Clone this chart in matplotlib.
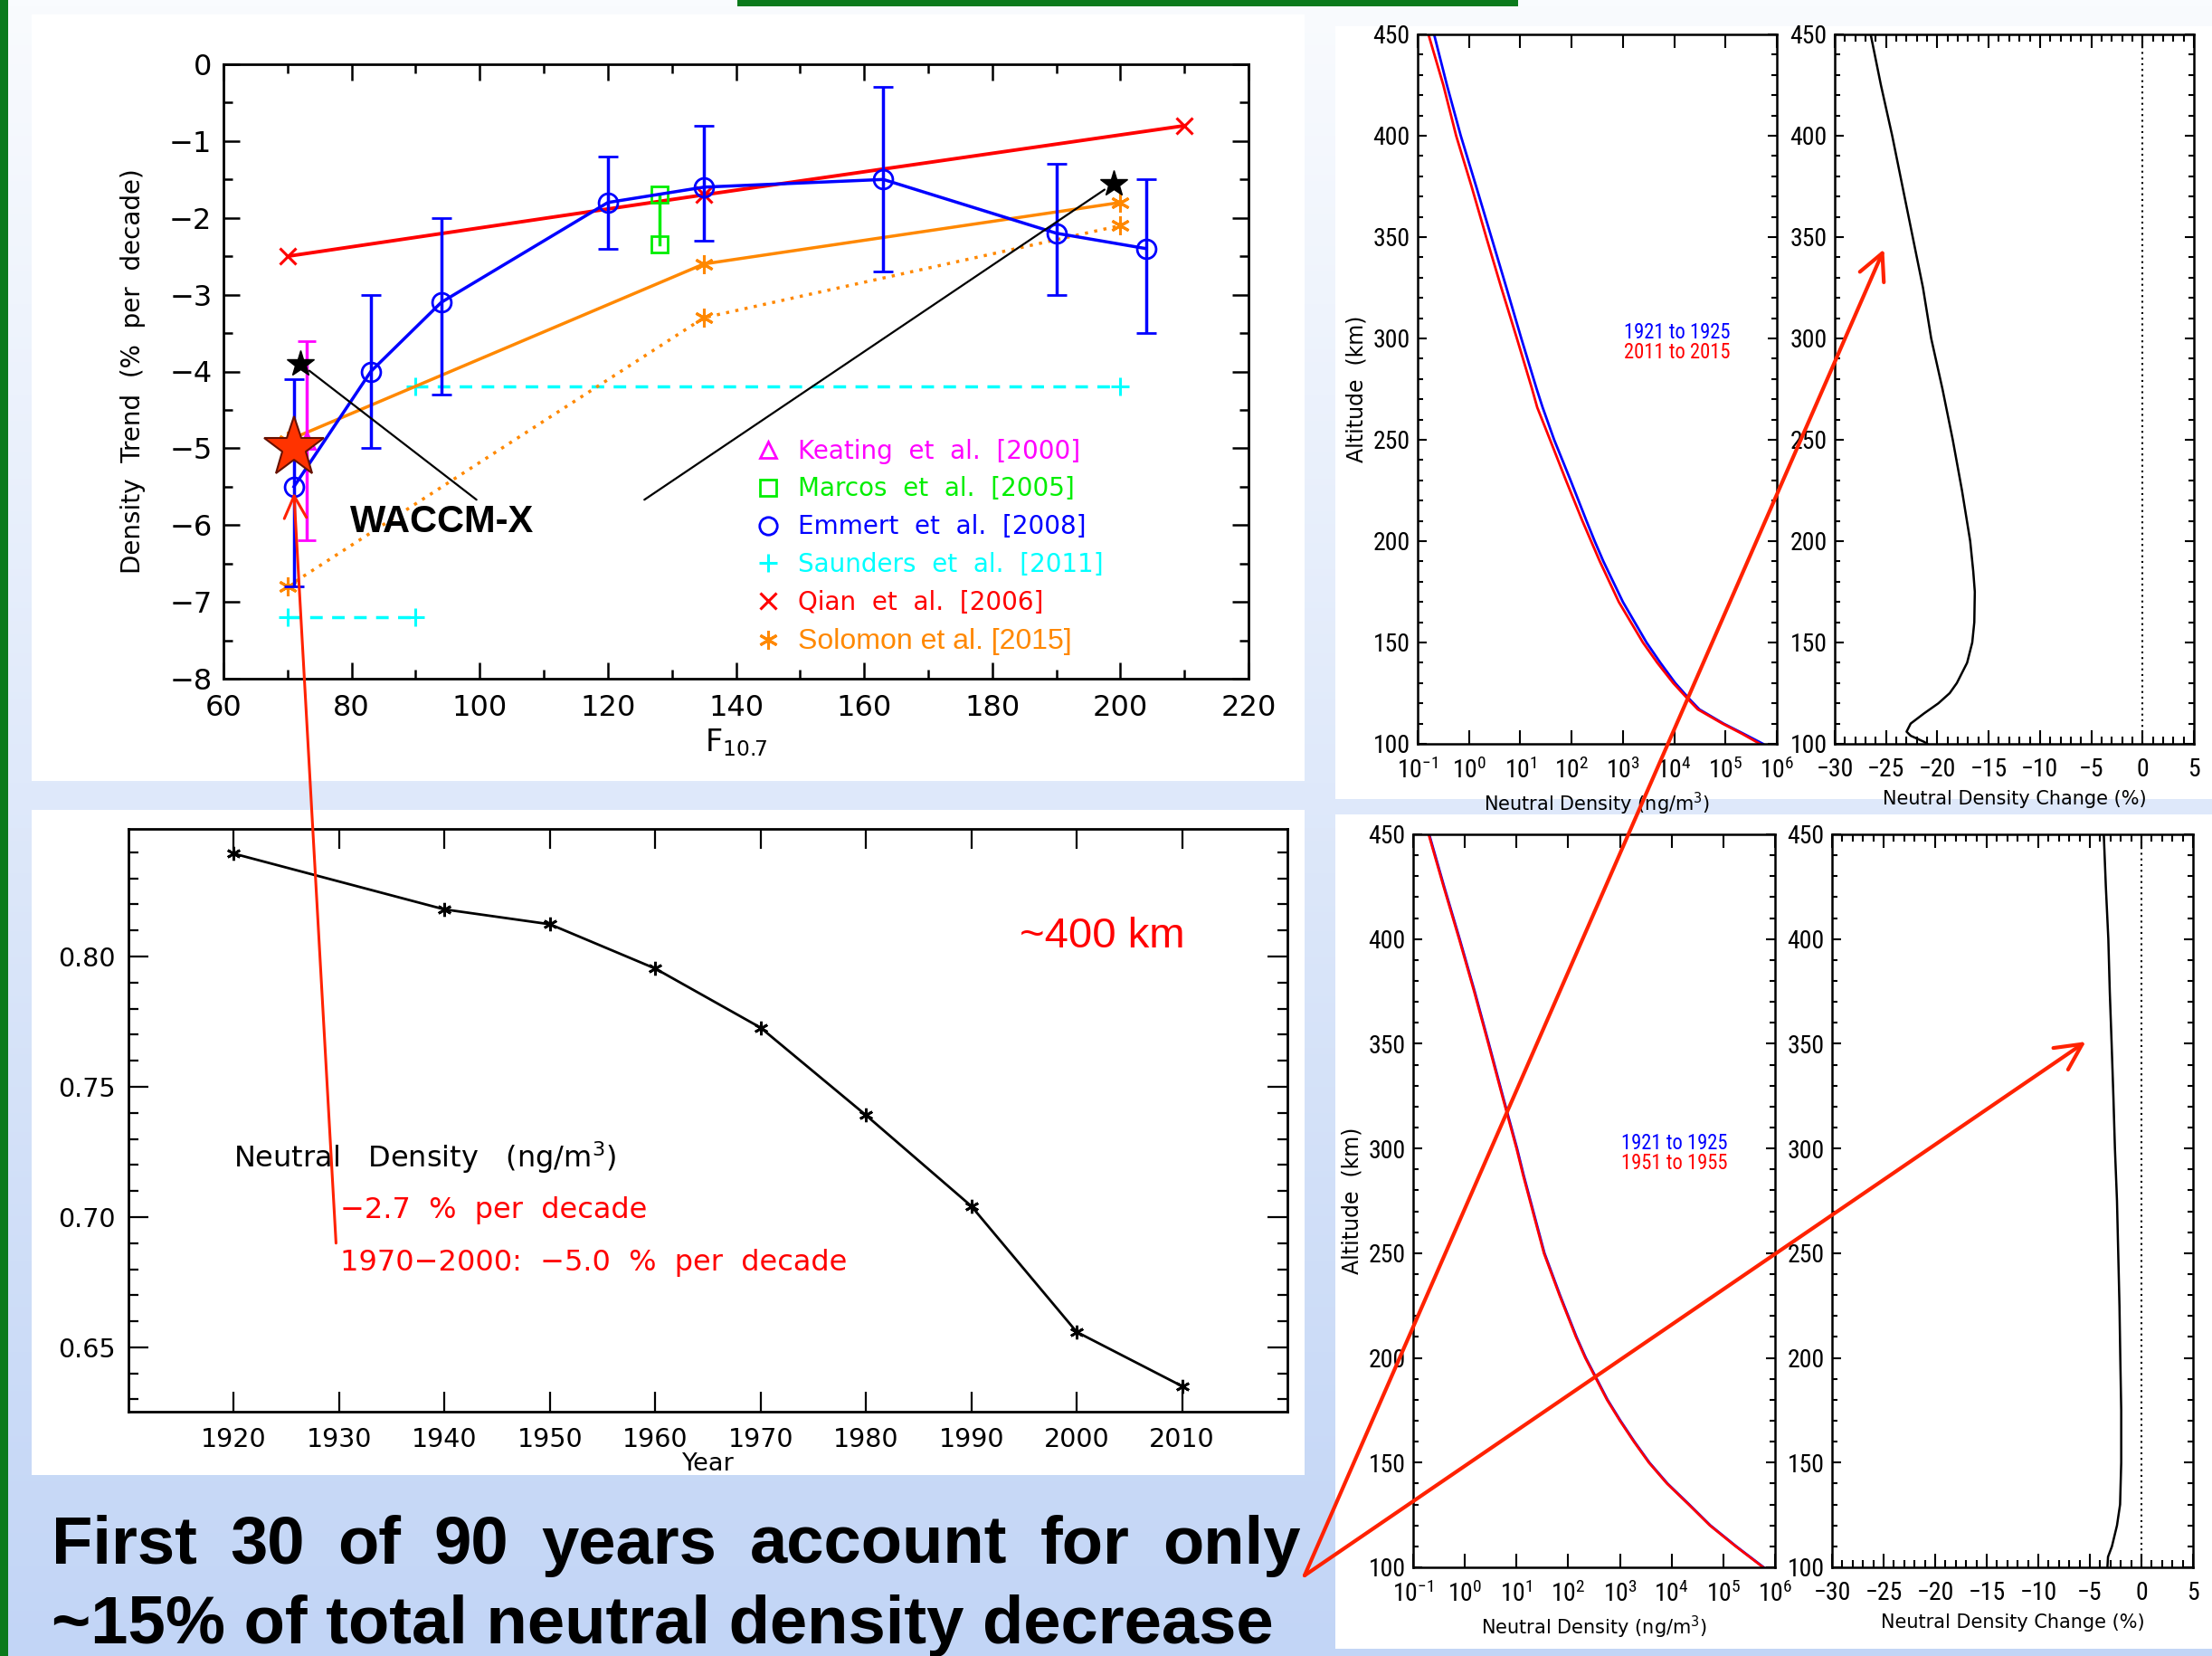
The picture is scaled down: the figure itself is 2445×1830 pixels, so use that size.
import numpy as np
import matplotlib
matplotlib.use("Agg")
import matplotlib.pyplot as plt
from matplotlib import font_manager
from matplotlib.lines import Line2D
from matplotlib.patches import Rectangle, ConnectionPatch
from matplotlib.ticker import MultipleLocator, NullLocator, LogLocator, FixedLocator, FormatStrFormatter

# ---------------- data: density trend vs F10.7 ----------------
emmert_f = [71, 83, 94, 120, 135, 163, 190, 204]
emmert_trend = [-5.5, -4.0, -3.1, -1.8, -1.6, -1.5, -2.2, -2.4]
emmert_hi = [-4.1, -3.0, -2.0, -1.2, -0.8, -0.3, -1.3, -1.5]
emmert_lo = [-6.8, -5.0, -4.3, -2.4, -2.3, -2.7, -3.0, -3.5]
keating_f = [73]
keating_trend = [-4.9]
keating_hi = [-3.6]
keating_lo = [-6.2]
marcos_f = [128, 128]
marcos_trend = [-1.7, -2.35]
saunders_lo_f = [70, 90]
saunders_lo = [-7.2, -7.2]
saunders_hi_f = [90, 200]
saunders_hi = [-4.2, -4.2]
qian_f = [70, 135, 210]
qian_trend = [-2.5, -1.7, -0.8]
solomon_f = [70, 135, 200]
solomon_solid = [-4.9, -2.6, -1.8]
solomon_dotted = [-6.8, -3.3, -2.1]
waccm_f = [72, 199]
waccm_trend = [-3.9, -1.55]
waccm_big_f = [71]
waccm_big = [-5.0]

# ---------------- data: ~400 km density by year ----------------
years = [1920, 1940, 1950, 1960, 1970, 1980, 1990, 2000, 2010]
dens400 = [0.8395, 0.8181, 0.8124, 0.7954, 0.7727, 0.7391, 0.7042, 0.6559, 0.6351]

# ---------------- data: profiles (top: 1921-25 vs 2011-15) ----------------
alt_top = [450, 425, 400, 375, 350, 325, 300, 275, 266, 250, 230, 210, 200, 190, 170, 150, 140, 130, 122,
           117, 110, 105, 100]
logrho_1921_top = [-0.68, -0.43, -0.16, 0.14, 0.436, 0.73, 1.02, 1.32, 1.435, 1.66, 1.98, 2.29, 2.45, 2.62,
                   3.00, 3.46, 3.73, 4.02, 4.30, 4.49, 4.96, 5.35, 5.73]
logrho_2011 = [-0.79, -0.50, -0.25, 0.05, 0.336, 0.63, 0.934, 1.23, 1.33, 1.58, 1.89, 2.21, 2.38, 2.55,
               2.92, 3.39, 3.67, 3.98, 4.27, 4.46, 4.94, 5.32, 5.67]
alt_chg_top = [450, 425, 400, 375, 350, 325, 300, 275, 250, 225, 200, 185, 175, 160, 150, 140, 130, 125,
               120, 115, 110, 106, 104, 101, 100]
chg_2011 = [-26.5, -25.5, -24.4, -23.4, -22.4, -21.4, -20.6, -19.5, -18.5, -17.6, -16.8, -16.5, -16.35,
            -16.4, -16.6, -17.1, -18.1, -18.8, -19.9, -21.3, -22.6, -23.0, -22.6, -21.3, -21.0]

# ---------------- data: profiles (bottom: 1921-25 vs 1951-55) ----------------
alt_bot = [450, 425, 400, 375, 350, 325, 300, 287, 250, 230, 210, 200, 190, 180, 170, 160, 150, 140, 130,
           120, 110, 100]
logrho_1921_bot = [-0.69, -0.40, -0.10, 0.19, 0.465, 0.735, 1.01, 1.14, 1.54, 1.84, 2.16, 2.34, 2.55, 2.76,
                   3.01, 3.28, 3.57, 3.92, 4.34, 4.75, 5.25, 5.78]
logrho_1951 = [-0.70, -0.41, -0.11, 0.18, 0.455, 0.725, 1.00, 1.13, 1.53, 1.83, 2.15, 2.33, 2.54, 2.75,
               3.00, 3.27, 3.56, 3.91, 4.33, 4.74, 5.24, 5.77]
alt_chg_bot = [450, 425, 400, 375, 350, 325, 300, 275, 250, 225, 200, 175, 150, 130, 120, 110, 105, 100]
chg_1951 = [-3.65, -3.45, -3.21, -3.07, -2.89, -2.72, -2.57, -2.37, -2.25, -2.13, -2.05, -1.96, -1.96,
            -2.07, -2.37, -2.86, -3.24, -3.30]

# ---------------- style ----------------
plt.rcParams['font.family'] = ['DejaVu Sans']


def pick_narrow():
    names = {f.name for f in font_manager.fontManager.ttflist}
    for n in ['Liberation Sans Narrow', 'Roboto Condensed', 'Noto Sans Condensed', 'Open Sans Condensed']:
        if n in names:
            return dict(family=n)
    for f in font_manager.fontManager.ttflist:
        if f.name == 'DejaVu Sans' and 'condensed' in str(f.stretch) and f.style == 'normal':
            return dict(family='DejaVu Sans', stretch='condensed')
    return dict(family='Liberation Sans')


NARROW = pick_narrow()

W, H = 2445, 1830
fig = plt.figure(figsize=(W / 100, H / 100), dpi=100)
renderer = fig.canvas.get_renderer()


def fit_size(sample, target_px, base=20, **kw):
    probe = fig.text(0, 0, sample, fontsize=base, **kw)
    w = probe.get_window_extent(renderer).width
    probe.remove()
    return base * target_px / w


tick_r = fit_size('450', 41, **NARROW)
year_r = fit_size('1921 to 1925', 117, **NARROW)

# background slide
bg = fig.add_axes([0, 0, 1, 1], zorder=-10)
top_c = np.array([249, 251, 254]) / 255
bot_c = np.array([194, 213, 246]) / 255
t = np.linspace(0, 1, 256)[:, None]
grad = (top_c[None, :] * (1 - t) + bot_c[None, :] * t)[:, None, :]
bg.imshow(grad, extent=[0, W, H, 0], aspect='auto')
bg.set_xlim(0, W)
bg.set_ylim(H, 0)
bg.axis('off')
for (x, y, w, h) in [(35, 16, 1407, 847), (35, 895, 1407, 735), (1476, 29, 969, 854), (1476, 900, 969, 922)]:
    bg.add_patch(Rectangle((x, y), w, h, facecolor='white', edgecolor='none'))
bg.add_patch(Rectangle((0, 0), 9, H, facecolor='#0b7a1c', edgecolor='none'))
bg.add_patch(Rectangle((815, 0), 863, 7, facecolor='#0b7a1c', edgecolor='none'))

RED = '#ff0000'
BLUE = '#0000ff'
MAG = '#ff00ff'
GRN = '#00ee00'
CYAN = '#00ffff'
ORNG = '#ff8800'

# ---------------- top-left: trend vs F10.7 ----------------
ax1 = fig.add_axes([247 / W, 1 - 750 / H, 1133 / W, 679 / H])
ax1.set_xlim(60, 220)
ax1.set_ylim(-8, 0)
ax1.xaxis.set_major_locator(MultipleLocator(20))
ax1.xaxis.set_minor_locator(MultipleLocator(10))
ax1.yaxis.set_major_locator(MultipleLocator(1))
ax1.yaxis.set_minor_locator(MultipleLocator(0.5))
ax1.tick_params(which='both', direction='in', top=True, right=True, width=1.8, labelsize=23)
ax1.tick_params(which='major', length=13)
ax1.tick_params(which='minor', length=7)
ax1.tick_params(axis='x', pad=12)
ax1.tick_params(axis='y', pad=9)
for s in ax1.spines.values():
    s.set_linewidth(2)
ax1.set_ylabel('Density  Trend  (%  per  decade)', fontsize=20, labelpad=19)
ax1.set_xlabel(r'F$_{10.7}$', fontsize=24, labelpad=4)

ax1.plot(saunders_lo_f, saunders_lo, color=CYAN, ls=(0, (4, 3)), lw=2.5, marker='+', ms=15, mew=2.2, zorder=2)
ax1.plot(saunders_hi_f, saunders_hi, color=CYAN, ls=(0, (4, 3)), lw=2.5, marker='+', ms=15, mew=2.2, zorder=2)
ax1.plot(solomon_f, solomon_solid, color=ORNG, lw=2.5, marker=(6, 2, 0), ms=15, mew=2.2, zorder=3)
ax1.plot(solomon_f, solomon_dotted, color=ORNG, lw=2.5, ls=(0, (1, 2)), marker=(6, 2, 0), ms=15, mew=2.2, zorder=3)
ax1.plot(qian_f, qian_trend, color=RED, lw=2.8, marker='x', ms=13, mew=2.2, zorder=3)
ax1.errorbar(emmert_f, emmert_trend,
             yerr=[np.subtract(emmert_trend, emmert_lo), np.subtract(emmert_hi, emmert_trend)],
             color=BLUE, marker='o', mfc='none', ms=15, mew=2, lw=2.5, elinewidth=2.5,
             capsize=8, capthick=2.5, zorder=4)
ax1.errorbar(keating_f, keating_trend,
             yerr=[np.subtract(keating_trend, keating_lo), np.subtract(keating_hi, keating_trend)],
             color=MAG, marker='^', mfc='none', ms=13, mew=2, ls='none', elinewidth=2.5,
             capsize=7, capthick=2.5, zorder=4)
ax1.plot(marcos_f, marcos_trend, color=GRN, lw=2.5, marker='s', mfc='none', ms=13, mew=2, zorder=4)

ax1.plot(waccm_f, waccm_trend, ls='none', marker='*', color='k', ms=22, zorder=6)
ax1.plot(waccm_big_f, waccm_big, ls='none', marker='*', mfc='#ff3300', mec='#661100', mew=1.5, ms=50, zorder=7)
ax1.text(79.8, -5.96, 'WACCM-X', fontsize=30, fontweight='bold', family='Liberation Sans', va='center', ha='left')
ax1.annotate('', xy=(waccm_f[0], waccm_trend[0]), xytext=(99.5, -5.67),
             arrowprops=dict(arrowstyle='-', color='k', lw=1.6, shrinkA=0, shrinkB=9), zorder=5)
ax1.annotate('', xy=(waccm_f[1], waccm_trend[1]), xytext=(125.7, -5.67),
             arrowprops=dict(arrowstyle='-', color='k', lw=1.6, shrinkA=0, shrinkB=9), zorder=5)

handles = [
    Line2D([], [], ls='none', marker='^', mfc='none', mec=MAG, ms=13, mew=2),
    Line2D([], [], ls='none', marker='s', mfc='none', mec=GRN, ms=13, mew=2),
    Line2D([], [], ls='none', marker='o', mfc='none', mec=BLUE, ms=14, mew=2),
    Line2D([], [], ls='none', marker='+', color=CYAN, ms=15, mew=2.2),
    Line2D([], [], ls='none', marker='x', color=RED, ms=13, mew=2.2),
    Line2D([], [], ls='none', marker=(6, 2, 0), color=ORNG, ms=15, mew=2.2),
]
labels = ['Keating  et  al.  [2000]', 'Marcos  et  al.  [2005]', 'Emmert  et  al.  [2008]',
          'Saunders  et  al.  [2011]', 'Qian  et  al.  [2006]', 'Solomon et al. [2015]']
leg = ax1.legend(handles, labels, loc='upper left', bbox_to_anchor=(0.519, 0.391), frameon=False,
                 fontsize=20, handlelength=1.0, handletextpad=0.7, labelspacing=0.5, borderpad=0,
                 borderaxespad=0, labelcolor=[MAG, GRN, BLUE, CYAN, RED, ORNG])
leg.get_texts()[5].set_fontfamily('Liberation Sans')
leg.get_texts()[5].set_fontsize(23)

# ---------------- bottom-left: 400 km density by year ----------------
ax2 = fig.add_axes([142 / W, 1 - 1560 / H, 1281 / W, 644 / H])
ax2.set_xlim(1910, 2020)
ax2.set_ylim(0.6253, 0.849)
ax2.plot(years, dens400, color='k', lw=2, marker=(6, 2, 0), ms=11, mew=2)
ax2.xaxis.set_major_locator(FixedLocator(range(1920, 2011, 10)))
ax2.yaxis.set_major_locator(MultipleLocator(0.05))
ax2.yaxis.set_minor_locator(MultipleLocator(0.01))
ax2.yaxis.set_major_formatter(FormatStrFormatter('%.2f'))
ax2.tick_params(which='both', direction='in', top=True, right=True, width=1.6, labelsize=20.5)
ax2.tick_params(which='major', length=16)
ax2.tick_params(which='minor', length=8)
ax2.tick_params(axis='x', pad=12)
ax2.tick_params(axis='y', pad=10)
for s in ax2.spines.values():
    s.set_linewidth(2)
ax2.set_xlabel('Year', fontsize=19.5, labelpad=0)
ax2.text(1920, 0.7227, 'Neutral   Density   (ng/m$^3$)', fontsize=23, va='center', ha='left')
ax2.text(1930.1, 0.7025, '\u22122.7  %  per  decade', fontsize=23, color=RED, va='center', ha='left')
ax2.text(1930.1, 0.6826, '1970\u22122000:  \u22125.0  %  per  decade', fontsize=23, color=RED, va='center', ha='left')
ax2.text(1994.6, 0.8078, '~400 km', fontsize=34, color=RED, family='Liberation Sans', va='center', ha='left')


# ---------------- right: profiles ----------------
def style_profile(ax, log_x):
    ax.set_ylim(100, 450)
    ax.yaxis.set_major_locator(MultipleLocator(50))
    ax.yaxis.set_minor_locator(MultipleLocator(10))
    if log_x:
        ax.set_xscale('log')
        ax.set_xlim(1e-1, 1e6)
        ax.xaxis.set_major_locator(LogLocator(base=10, numticks=20))
        ax.xaxis.set_minor_locator(NullLocator())
    else:
        ax.set_xlim(-30, 5)
        ax.xaxis.set_major_locator(MultipleLocator(5))
        ax.xaxis.set_minor_locator(MultipleLocator(1))
    ax.tick_params(which='both', direction='in', top=True, right=True, width=1.5, labelsize=tick_r)
    ax.tick_params(axis='x', which='major', length=11, pad=11)
    ax.tick_params(axis='x', which='minor', length=6)
    ax.tick_params(axis='y', which='major', length=7, pad=6)
    ax.tick_params(axis='y', which='minor', length=4.5)
    for s in ax.spines.values():
        s.set_linewidth(1.8)
    for lab in ax.get_xticklabels() + ax.get_yticklabels():
        lab.set_fontfamily(NARROW['family'])
        if 'stretch' in NARROW:
            lab.set_fontstretch(NARROW['stretch'])


rects = {
    'r1': [1567 / W, 1 - 822 / H, 397 / W, 784 / H],
    'r2': [2028 / W, 1 - 822 / H, 397 / W, 784 / H],
    'r3': [1562 / W, 1 - 1732 / H, 400 / W, 810 / H],
    'r4': [2025 / W, 1 - 1732 / H, 399 / W, 810 / H],
}

ax_r1 = fig.add_axes(rects['r1'])
ax_r1.plot(10 ** np.array(logrho_1921_top), alt_top, color=BLUE, lw=2)
ax_r1.plot(10 ** np.array(logrho_2011), alt_top, color=RED, lw=2)
style_profile(ax_r1, True)
ax_r1.text(10 ** 4.05, 303, '1921 to 1925', color=BLUE, fontsize=year_r, ha='center', va='center', **NARROW)
ax_r1.text(10 ** 4.05, 293, '2011 to 2015', color=RED, fontsize=year_r, ha='center', va='center', **NARROW)

ax_r2 = fig.add_axes(rects['r2'])
ax_r2.plot(chg_2011, alt_chg_top, color='k', lw=1.8)
ax_r2.axvline(0, color='k', ls=(0, (1, 2)), lw=1.5)
style_profile(ax_r2, False)

ax_r3 = fig.add_axes(rects['r3'])
ax_r3.plot(10 ** np.array(logrho_1921_bot), alt_bot, color=BLUE, lw=2)
ax_r3.plot(10 ** np.array(logrho_1951), alt_bot, color=RED, lw=2)
style_profile(ax_r3, True)
ax_r3.text(10 ** 4.06, 302.6, '1921 to 1925', color=BLUE, fontsize=year_r, ha='center', va='center', **NARROW)
ax_r3.text(10 ** 4.06, 293, '1951 to 1955', color=RED, fontsize=year_r, ha='center', va='center', **NARROW)

ax_r4 = fig.add_axes(rects['r4'])
ax_r4.plot(chg_1951, alt_chg_bot, color='k', lw=1.8)
ax_r4.axvline(0, color='k', ls=(0, (1, 2)), lw=1.5)
style_profile(ax_r4, False)

for ax in (ax_r1, ax_r3):
    ax.set_xlabel('Neutral Density (ng/m$^3$)', fontsize=15, labelpad=6)
    ax.set_ylabel('Altitude  (km)', fontsize=17, labelpad=4)
for ax in (ax_r2, ax_r4):
    ax.set_xlabel('Neutral Density Change (%)', fontsize=15, labelpad=6)

# ---------------- bottom statement ----------------
line1 = 'First 30 of 90 years account for only'
line2 = '~15% of total neutral density decrease'
tfont = dict(fontsize=53.5, fontweight='bold', family='Liberation Sans', va='baseline', ha='left')
words = line1.split()
objs = [bg.text(0, 1728, w, **tfont) for w in words]
widths = [o.get_window_extent(renderer).width for o in objs]
x0, x1 = 57, 1438
gap = (x1 - x0 - sum(widths)) / (len(words) - 1)
xpos = x0
for o, wd in zip(objs, widths):
    o.set_x(xpos)
    xpos += wd + gap
bg.text(57, 1816, line2, **tfont)

# ---------------- red pointer arrows ----------------
ARR = '#ff2200'
fig.add_artist(ConnectionPatch(xyA=(1929.7, 0.690), coordsA=ax2.transData, xyB=(71, -5.58), coordsB=ax1.transData,
                               arrowstyle='->,head_length=0.8,head_width=0.4', mutation_scale=22,
                               color=ARR, lw=2.2, zorder=30))
fig.add_artist(ConnectionPatch(xyA=(1442, H - 1741), coordsA='figure pixels', xyB=(-25.2, 344),
                               coordsB=ax_r2.transData, arrowstyle='->,head_length=0.8,head_width=0.4',
                               mutation_scale=26, color=ARR, lw=3, zorder=30))
fig.add_artist(ConnectionPatch(xyA=(1442, H - 1741), coordsA='figure pixels', xyB=(-5.4, 351),
                               coordsB=ax_r4.transData, arrowstyle='->,head_length=0.8,head_width=0.4',
                               mutation_scale=26, color=ARR, lw=3, zorder=30))

fig.savefig('out.png', dpi=100)
